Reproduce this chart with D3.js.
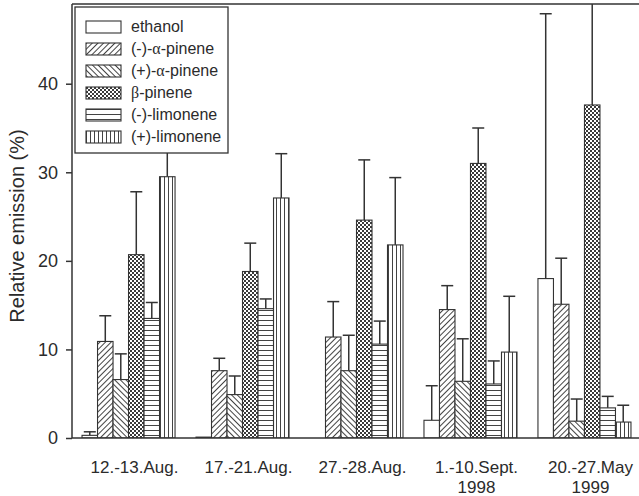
<!DOCTYPE html>
<html>
<head>
<meta charset="utf-8">
<script src="https://cdn.jsdelivr.net/npm/d3@7"></script>
<style>
  body { margin: 0; background: #fff; }
  text { font-family: 'Liberation Sans', Arial, sans-serif; fill: #2b2b2b; }
</style>
</head>
<body>
<svg id="chart" width="639" height="496"></svg>
<script>
// sampling periods (two-line tick labels)
const periodLine1 = ['12.-13.Aug.', '17.-21.Aug.', '27.-28.Aug.', '1.-10.Sept.', '20.-27.May']
const periodLine2 = ['', '', '', '1998', '1999']

const compounds = ['ethanol', '(-)-α-pinene', '(+)-α-pinene', 'β-pinene', '(-)-limonene', '(+)-limonene']

// relative emission (%) per compound, one value per period
const ethanol = [0.3, 0.1, 0, 2.0, 18.0]
const alphaMinus = [10.9, 7.6, 11.4, 14.5, 15.1]
const alphaPlus = [6.6, 4.9, 7.6, 6.4, 1.9]
const betaPinene = [20.7, 18.8, 24.6, 31.0, 37.6]
const limMinus = [13.5, 14.6, 10.6, 6.1, 3.4]
const limPlus = [29.5, 27.1, 21.8, 9.7, 1.8]

// upper error (SD)
const ethanolSd = [0.4, 0, 0, 3.9, 29.9]
const alphaMinusSd = [2.9, 1.4, 4.0, 2.7, 5.2]
const alphaPlusSd = [2.9, 2.1, 4.0, 4.8, 2.5]
const betaPineneSd = [7.1, 3.2, 6.8, 4.0, 14.0]
const limMinusSd = [1.8, 1.1, 2.6, 2.6, 1.3]
const limPlusSd = [4.5, 5.0, 7.6, 6.3, 1.9]

const yTicks = [0, 10, 20, 30, 40]

const values = [ethanol, alphaMinus, alphaPlus, betaPinene, limMinus, limPlus]
const sds = [ethanolSd, alphaMinusSd, alphaPlusSd, betaPineneSd, limMinusSd, limPlusSd]
const fills = ['#fff', 'url(#hatchUp)', 'url(#hatchDown)', 'url(#checks)', 'url(#horiz)', 'url(#vert)']

const svg = d3.select('#chart')
const margin = {top: 4, left: 72, bottom: 438, right: 641}
const ink = '#333'

// patterns
const defs = svg.append('defs')
function linePattern (id, w, h, rot, x1, y1, x2, y2) {
  const p = defs.append('pattern')
    .attr('id', id)
    .attr('patternUnits', 'userSpaceOnUse')
    .attr('width', w).attr('height', h)
  if (rot) p.attr('patternTransform', 'rotate(' + rot + ')')
  p.append('rect').attr('width', w).attr('height', h).attr('fill', '#fff')
  p.append('line')
    .attr('x1', x1).attr('y1', y1).attr('x2', x2).attr('y2', y2)
    .attr('stroke', '#444').attr('stroke-width', 1)
}
linePattern('hatchUp', 4, 4, 45, 0.5, 0, 0.5, 4)
linePattern('hatchDown', 4, 4, -45, 0.5, 0, 0.5, 4)
linePattern('horiz', 10, 5, 0, 0, 0.5, 10, 0.5)
linePattern('vert', 4, 10, 0, 0.5, 0, 0.5, 10)
const ch = defs.append('pattern')
  .attr('id', 'checks')
  .attr('patternUnits', 'userSpaceOnUse')
  .attr('width', 4).attr('height', 4)
ch.append('rect').attr('width', 4).attr('height', 4).attr('fill', '#fff')
ch.append('rect').attr('width', 2).attr('height', 2).attr('fill', '#3a3a3a')
ch.append('rect').attr('x', 2).attr('y', 2).attr('width', 2).attr('height', 2).attr('fill', '#3a3a3a')

defs.append('clipPath').attr('id', 'plotClip')
  .append('rect')
  .attr('x', margin.left).attr('y', margin.top)
  .attr('width', margin.right - margin.left).attr('height', margin.bottom - margin.top)

// scales
const x0 = d3.scaleBand()
  .domain(d3.range(periodLine1.length))
  .range([margin.left, margin.right])
  .paddingInner(0.184)
  .paddingOuter(0.088)
const x1 = d3.scaleBand()
  .domain(d3.range(compounds.length))
  .range([0, x0.bandwidth()])
const y = d3.scaleLinear().domain([0, 49]).range([margin.bottom, margin.top])

// bars and error bars
const plot = svg.append('g').attr('clip-path', 'url(#plotClip)')
const rows = []
values.forEach((vals, s) => {
  vals.forEach((v, g) => rows.push({s: s, g: g, v: v, sd: sds[s][g]}))
})
const bars = rows.filter(d => d.v > 0)

plot.selectAll('line.err')
  .data(bars.filter(d => d.sd > 0))
  .enter()
  .append('line')
  .attr('class', 'err')
  .attr('x1', d => x0(d.g) + x1(d.s) + x1.bandwidth() / 2)
  .attr('x2', d => x0(d.g) + x1(d.s) + x1.bandwidth() / 2)
  .attr('y1', d => y(d.v))
  .attr('y2', d => y(d.v + d.sd))
  .attr('stroke', ink).attr('stroke-width', 1.5)
plot.selectAll('line.cap')
  .data(bars.filter(d => d.sd > 0))
  .enter()
  .append('line')
  .attr('class', 'cap')
  .attr('x1', d => x0(d.g) + x1(d.s) + x1.bandwidth() / 2 - 6)
  .attr('x2', d => x0(d.g) + x1(d.s) + x1.bandwidth() / 2 + 6)
  .attr('y1', d => y(d.v + d.sd))
  .attr('y2', d => y(d.v + d.sd))
  .attr('stroke', ink).attr('stroke-width', 1.5)

plot.selectAll('rect.bar')
  .data(bars)
  .enter()
  .append('rect')
  .attr('class', 'bar')
  .attr('x', d => x0(d.g) + x1(d.s))
  .attr('y', d => y(d.v))
  .attr('width', x1.bandwidth())
  .attr('height', d => y(0) - y(d.v))
  .attr('fill', d => fills[d.s])
  .attr('stroke', ink).attr('stroke-width', 1.1)

// frame
svg.append('line')
  .attr('x1', margin.left).attr('x2', margin.right)
  .attr('y1', margin.top).attr('y2', margin.top)
  .attr('stroke', ink).attr('stroke-width', 1.5)
svg.append('line')
  .attr('x1', margin.left).attr('x2', margin.right)
  .attr('y1', margin.bottom).attr('y2', margin.bottom)
  .attr('stroke', ink).attr('stroke-width', 1.5)
svg.append('line')
  .attr('x1', margin.left).attr('x2', margin.left)
  .attr('y1', margin.top).attr('y2', margin.bottom)
  .attr('stroke', ink).attr('stroke-width', 1.5)

// y axis
const yAxis = svg.append('g')
  .attr('transform', 'translate(' + margin.left + ',0)')
  .call(d3.axisLeft(y).tickValues(yTicks).tickSize(6).tickPadding(8))
yAxis.select('.domain').remove()
yAxis.selectAll('.tick line').attr('stroke', ink).attr('stroke-width', 1.5)
yAxis.selectAll('.tick text')
  .style('font-size', '18px')
  .style('font-family', "'Liberation Sans', Arial, sans-serif")
  .attr('fill', '#2b2b2b')

svg.append('text')
  .attr('transform', 'translate(24,226) rotate(-90)')
  .attr('text-anchor', 'middle')
  .style('font-size', '20px')
  .text('Relative emission (%)')

// x labels
const xl = svg.selectAll('text.period')
  .data(periodLine1)
  .enter()
  .append('text')
  .attr('class', 'period')
  .attr('text-anchor', 'middle')
  .attr('x', (d, i) => x0(i) + x0.bandwidth() / 2 + 6)
  .attr('y', 473)
  .style('font-size', '17px')
xl.append('tspan').text(d => d)
xl.append('tspan')
  .attr('x', (d, i) => x0(i) + x0.bandwidth() / 2 + 6)
  .attr('dy', 20)
  .text((d, i) => periodLine2[i])

// legend
const legend = svg.append('g')
legend.append('rect')
  .attr('x', 75).attr('y', 7).attr('width', 153).attr('height', 146)
  .attr('fill', '#fff').attr('stroke', ink).attr('stroke-width', 1.3)
const item = legend.selectAll('g.item')
  .data(compounds)
  .enter()
  .append('g')
  .attr('class', 'item')
  .attr('transform', (d, i) => 'translate(86,' + (21 + i * 22) + ')')
item.append('rect')
  .attr('width', 35).attr('height', 12)
  .attr('fill', (d, i) => fills[i])
  .attr('stroke', ink).attr('stroke-width', 1.1)
const lt = item.append('text')
  .attr('x', 45).attr('y', 11)
  .style('font-size', '16px')
lt.each(function (d) {
  const t = d3.select(this)
  const parts = d.split(/([αβ])/)
  parts.forEach(p => {
    if (p === 'α' || p === 'β') {
      t.append('tspan').style('font-family', "'Liberation Serif', serif").text(p)
    } else if (p) {
      t.append('tspan').text(p)
    }
  })
})
</script>
</body>
</html>
